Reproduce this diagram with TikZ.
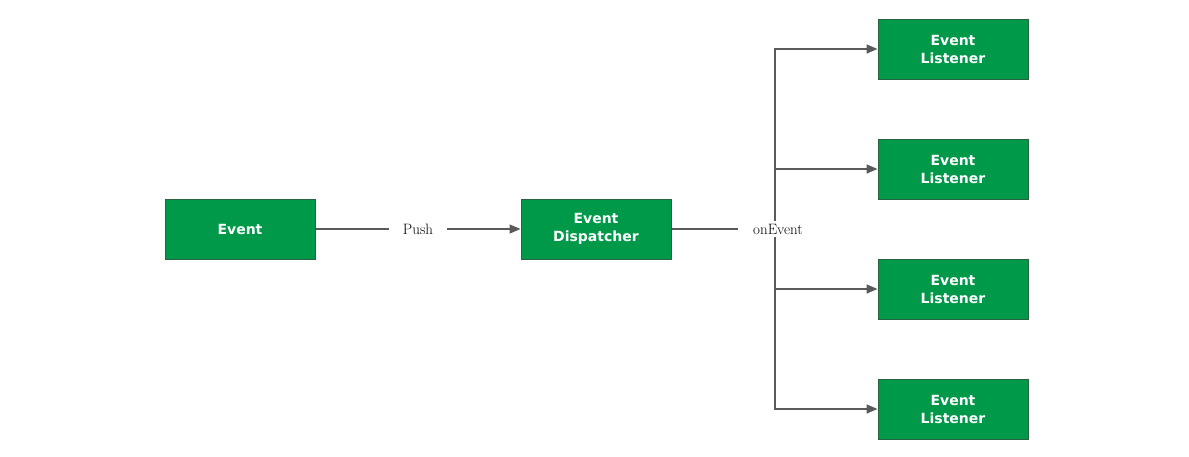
\documentclass[tikz,border=0pt]{standalone}
\usepackage{fontspec}
\newfontfamily\boxfont{DejaVu Sans}
\usetikzlibrary{arrows.meta}
\definecolor{boxgreen}{RGB}{0,153,74}
\definecolor{boxborder}{RGB}{40,100,65}
\definecolor{linegray}{RGB}{90,90,90}
\tikzset{
  gbox/.style={draw=boxborder, line width=1pt, fill=boxgreen, minimum width=150pt, minimum height=60pt, inner sep=0pt, align=center, text=white, font=\boxfont\bfseries\fontsize{14}{18}\selectfont},
  conn/.style={draw=linegray, line width=1.5pt},
  arr/.style={conn, -{Triangle[length=11pt,width=9pt]}},
  lbl/.style={fill=white, inner xsep=14pt, inner ysep=3pt, font=\fontsize{15}{17}\selectfont, text=black}
}
\begin{document}
\begin{tikzpicture}[x=1pt,y=-1pt]
\useasboundingbox (0,0) rectangle (1189,456);
\node[gbox] (ev) at (240,229) {Event};
\node[gbox] (disp) at (596,229) {Event\\Dispatcher};
\node[gbox] (l1) at (953,49) {Event\\Listener};
\node[gbox] (l2) at (953,169) {Event\\Listener};
\node[gbox] (l3) at (953,289) {Event\\Listener};
\node[gbox] (l4) at (953,409) {Event\\Listener};
\coordinate (trunk) at (775,229);
\draw[arr] (ev) -- node[lbl] (push) {Push} (disp);
\draw[arr] (trunk) |- (l1.west);
\draw[arr] (trunk) |- (l2.west);
\draw[arr] (trunk) |- (l3.west);
\draw[arr] (trunk) |- (l4.west);
\draw[conn] (disp) -- (trunk) node[lbl, inner xsep=15pt, xshift=3pt] (on) {onEvent};
\end{tikzpicture}
\end{document}
